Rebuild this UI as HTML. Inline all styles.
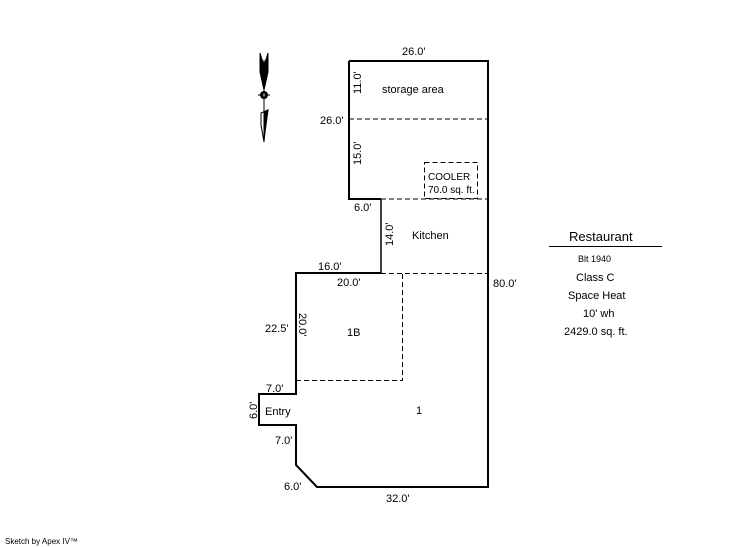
<!DOCTYPE html>
<html><head><style>
body{margin:0;background:#fff;}
svg{display:block;font-family:"Liberation Sans",sans-serif;font-size:11px;}
</style></head><body>
<svg width="746" height="547" viewBox="0 0 746 547">
<g fill="none" stroke="#000">
<polyline stroke-width="2" points="349,61 488,61 488,487 317,487 296,465 296,425 259,425 259,394 296,394 296,273 381,273"/>
<polyline stroke-width="1.5" points="381,273 381,199"/>
<polyline stroke-width="2" points="381,199 349,199 349,61"/>
<g stroke-width="1" stroke-dasharray="5,3">
<line x1="349" y1="119" x2="488" y2="119"/>
<line x1="381" y1="199" x2="488" y2="199"/>
<rect x="424.5" y="162.5" width="53" height="36"/>
<line x1="381" y1="273.5" x2="488" y2="273.5"/>
<polyline points="296,380.5 402.5,380.5 402.5,273"/>
</g>
<line x1="549" y1="246.5" x2="662" y2="246.5" stroke-width="1"/>
</g>
<!-- compass -->
<g fill="#000" stroke="#000">
<path d="M260,53 L264,66 L268,53 L268,72 L264,90 L260,72 Z" stroke-width="1"/>
<line x1="264" y1="60" x2="264" y2="142" stroke-width="1"/>
<circle cx="264" cy="95" r="3.5" fill="#000"/>
<circle cx="264" cy="95" r="1.3" fill="#fff" stroke="none"/>
<line x1="258" y1="95" x2="270" y2="95" stroke-width="1"/>
<path d="M261,113 L268,110 L265,128 L264,142 L261,125 Z" stroke-width="1" fill="#fff"/>
<path d="M264,112 L268,110 L264,140 Z"/>
</g>
<g fill="#000">
<text x="402" y="55">26.0'</text>
<text x="320" y="124">26.0'</text>
<text x="382" y="93">storage area</text>
<text x="428" y="180" font-size="10">COOLER</text>
<text x="428" y="193" font-size="10">70.0 sq. ft.</text>
<text x="354" y="211">6.0'</text>
<text x="412" y="239">Kitchen</text>
<text x="318" y="270">16.0'</text>
<text x="337" y="286">20.0'</text>
<text x="493" y="287">80.0'</text>
<text x="265" y="332">22.5'</text>
<text x="347" y="336">1B</text>
<text x="266" y="392">7.0'</text>
<text x="265" y="415">Entry</text>
<text x="416" y="414">1</text>
<text x="275" y="444">7.0'</text>
<text x="284" y="490">6.0'</text>
<text x="386" y="502">32.0'</text>
<text x="361" y="94" transform="rotate(-90 361 94)">11.0'</text>
<text x="361" y="165" transform="rotate(-90 361 165)">15.0'</text>
<text x="393" y="246" transform="rotate(-90 393 246)">14.0'</text>
<text x="257" y="419" transform="rotate(-90 257 419)">6.0'</text>
<g transform="rotate(90 0 0)">
<text x="313" y="-299">20.0'</text>
</g>
<text x="569" y="241" font-size="13">Restaurant</text>
<text x="578" y="262" font-size="9">Blt 1940</text>
<text x="576" y="281">Class C</text>
<text x="568" y="299">Space Heat</text>
<text x="583" y="317">10' wh</text>
<text x="564" y="335">2429.0 sq. ft.</text>
<text x="5" y="544" font-size="8">Sketch by Apex IV™</text>
</g>
</svg>
</body></html>
